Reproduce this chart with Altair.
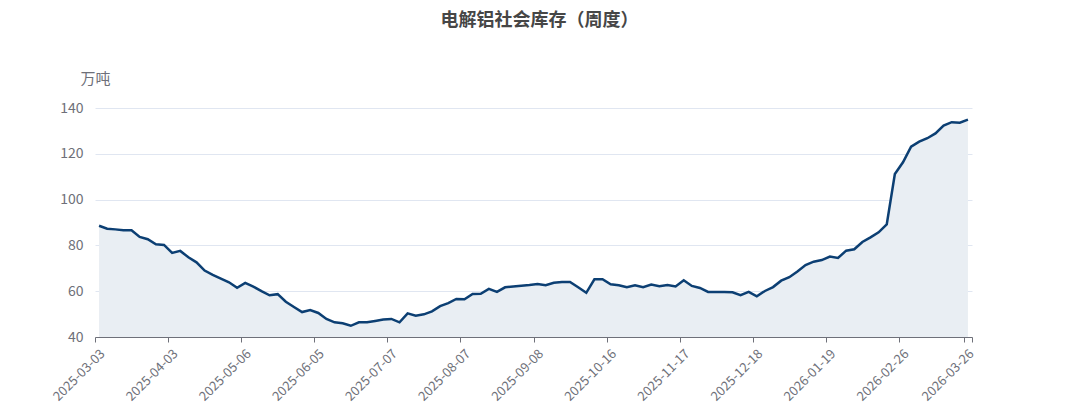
import altair as alt
import pandas as pd

title_text = "电解铝社会库存（周度）"
y_unit = "万吨"

# inventory values (万吨), one per report date, in order
values = [
    88.6, 87.3, 87.0, 86.6, 86.6, 83.7, 82.7, 80.5, 80.2, 76.7,
    77.6, 74.8, 72.6, 69.0, 67.1, 65.5, 63.9, 61.5, 63.6, 62.0,
    60.0, 58.2, 58.7, 55.4, 53.1, 50.9, 51.8, 50.5, 47.9, 46.4,
    46.0, 44.9, 46.4, 46.4, 47.0, 47.6, 47.9, 46.4, 50.3, 49.3,
    49.9, 51.2, 53.5, 54.8, 56.6, 56.5, 58.8, 58.9, 61.0, 59.7,
    61.7, 62.1, 62.4, 62.7, 63.1, 62.6, 63.7, 64.0, 64.0, 61.7,
    59.3, 65.2, 65.2, 63.0, 62.6, 61.7, 62.6, 61.7, 62.9, 62.2,
    62.7, 62.1, 64.8, 62.3, 61.4, 59.7, 59.7, 59.7, 59.5, 58.3,
    59.7, 57.8, 60.1, 61.8, 64.6, 66.1, 68.6, 71.4, 72.9, 73.6,
    75.1, 74.5, 77.7, 78.3, 81.5, 83.5, 85.7, 89.2, 111.2, 116.3,
    123.1, 125.3, 126.8, 128.9, 132.3, 133.8, 133.6, 134.9,
]

# x-axis tick labels and the category positions they belong to
tick_labels = [
    "2025-03-03", "2025-04-03", "2025-05-06", "2025-06-05", "2025-07-07",
    "2025-08-07", "2025-09-08", "2025-10-16", "2025-11-17", "2025-12-18",
    "2026-01-19", "2026-02-26", "2026-03-26",
]
tick_index = [0, 9, 18, 27, 36, 45, 54, 63, 72, 81, 90, 99, 107]

y_ticks = [40, 60, 80, 100, 120, 140]
y_min, y_max = 40, 140

n = len(values)
df = pd.DataFrame({"idx": list(range(n)), "value": values})

W, H = 877, 229
band = W / n

bounds = [i - 0.5 for i in tick_index] + [n - 0.5]
arr_vals = "[" + ",".join(str(b) for b in bounds[:-1]) + "]"
arr_labs = "[" + ",".join("'" + s + "'" for s in tick_labels) + "]"
label_expr = (
    f"indexof({arr_vals}, datum.value) < 0 ? '' : "
    f"{arr_labs}[indexof({arr_vals}, datum.value)]"
)

font = "Noto Sans CJK SC"
gray = "#6e7079"

x = alt.X(
    "idx:Q",
    scale=alt.Scale(domain=[-0.5, n - 0.5], nice=False, zero=False),
    axis=alt.Axis(
        values=bounds,
        labelExpr=label_expr,
        labelAngle=-45,
        labelAlign="right",
        labelBaseline="top",
        labelOffset=band / 2 - 1,
        labelPadding=5,
        labelFontSize=13,
        labelColor=gray,
        labelFont=font,
        labelOverlap=False,
        labelBound=False,
        labelFlush=False,
        tickColor=gray,
        tickSize=5,
        domainColor=gray,
        grid=False,
        title=None,
    ),
)
y = alt.Y(
    "value:Q",
    scale=alt.Scale(domain=[y_min, y_max], nice=False, zero=False),
    axis=alt.Axis(
        values=y_ticks,
        labelFontSize=14,
        labelColor=gray,
        labelFont=font,
        labelPadding=12,
        ticks=False,
        domain=False,
        gridColor="#e0e6f1",
        title=y_unit,
        titleAngle=0,
        titleX=0,
        titleY=-30,
        titleAlign="center",
        titleBaseline="middle",
        titleFontSize=15,
        titleFontWeight="normal",
        titleColor=gray,
        titleFont=font,
    ),
)

area = alt.Chart(df).mark_area(color="#e9eef3", line=False).encode(
    x=x, y=y, y2=alt.datum(y_min)
)
line = alt.Chart(df).mark_line(color="#0c3f73", strokeWidth=2.5).encode(x=x, y=y)

chart = (
    alt.layer(area, line)
    .properties(
        width=W,
        height=H,
        title=alt.TitleParams(
            text=title_text,
            fontSize=18,
            fontWeight="bold",
            color="#464646",
            font=font,
            anchor="middle",
            frame="group",
            dx=6,
            offset=41,
        ),
        autosize=alt.AutoSizeParams(type="none"),
        padding={"left": 87, "top": 100, "right": 60, "bottom": 70},
    )
    .configure(background="white", view=alt.ViewConfig(stroke=None, strokeWidth=0))
)

chart.save("out.html", embed_options={"renderer": "svg", "actions": False})
